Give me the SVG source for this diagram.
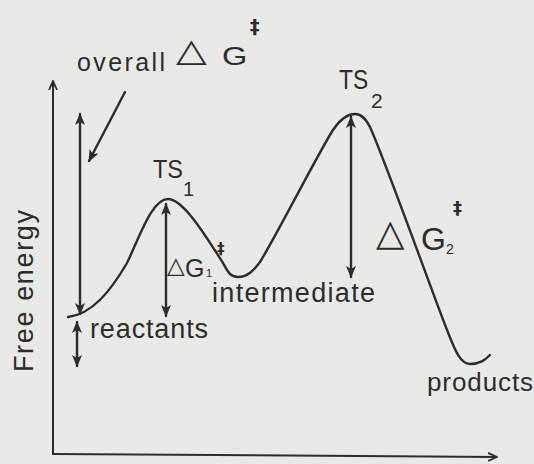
<svg xmlns="http://www.w3.org/2000/svg" width="534" height="464" viewBox="0 0 534 464">
<defs>
<style>
.ln{fill:none;stroke:#2c2c2c;stroke-width:2.4;stroke-linecap:round;stroke-linejoin:round}
.ax{fill:none;stroke:#2c2c2c;stroke-width:2}
.t{font-family:"Liberation Sans",Arial,sans-serif;fill:#2c2c2c}
.dd{font-family:"DejaVu Sans",sans-serif;font-weight:bold;fill:#2c2c2c}
.sym{font-family:"DejaVu Sans",sans-serif;fill:#2c2c2c}
</style>
<marker id="ah" viewBox="0 0 12 10" refX="11" refY="5" markerWidth="12" markerHeight="10" markerUnits="userSpaceOnUse" orient="auto-start-reverse">
<path d="M0,0 L12,5 L0,10 L3,5 z" fill="#2c2c2c"/>
</marker>
<marker id="av" viewBox="0 0 10 10" refX="9" refY="5" markerWidth="10" markerHeight="10" markerUnits="userSpaceOnUse" orient="auto">
<path d="M0,1 L9,5 L0,9" fill="none" stroke="#2c2c2c" stroke-width="1.8"/>
</marker>
</defs>
<rect width="534" height="464" fill="#e8e8e6"/>
<g id="axes">
<path class="ax" d="M53,455 L53,81" marker-end="url(#av)"/>
<path class="ax" d="M53,454 L497,457" marker-end="url(#av)"/>
<text class="t" font-size="27" transform="translate(33,372) rotate(-90)" textLength="162" lengthAdjust="spacing">Free energy</text>
</g>
<g id="curve">
<path class="ln" d="M68,317 C92,314 110,292 127,263 C140,236 152,199 168,199 C184,199 208,240 223,263 C228,272 230,277 238,277 C248,277 254,270 260,262 C275,238 320,150 333,130 C341,118 348,114 355,114 C362,114 366,119 370,127 C385,160 435,300 447,330 C455,350 460,364 470,364 C480,364 485,360 490,355"/>
</g>
<g id="connectors">
<path class="ln" d="M80,114 L80,314" marker-start="url(#ah)" marker-end="url(#ah)"/>
<path class="ln" d="M166,204 L166,316" marker-start="url(#ah)" marker-end="url(#ah)"/>
<path class="ln" d="M351,117 L351,277" marker-start="url(#ah)" marker-end="url(#ah)"/>
<path class="ln" d="M77,322 L77,366" marker-start="url(#ah)" marker-end="url(#ah)"/>
<path class="ln" d="M125,92 L89,161" marker-end="url(#ah)"/>
</g>
<g id="overall-label">
<text class="t" x="77" y="71" font-size="25" textLength="88" lengthAdjust="spacing">overall</text>
<text class="sym" font-size="40" transform="translate(176,61) scale(1,0.8)">△</text>
<text class="t" font-size="25" transform="translate(222,65) scale(1.3,1)">G</text>
<text class="dd" x="250" y="33" font-size="19">‡</text>
</g>
<g id="ts1">
<text class="t" x="153" y="178" font-size="25" textLength="30" lengthAdjust="spacingAndGlyphs">TS</text>
<text class="t" x="183" y="196" font-size="20">1</text>
</g>
<g id="ts2">
<text class="t" font-size="24" transform="translate(339,89) scale(0.95,1.15)">TS</text>
<text class="t" x="371" y="108" font-size="21">2</text>
</g>
<g id="dg1">
<text class="sym" x="167" y="273" font-size="23">△</text>
<text class="t" x="185" y="277" font-size="25">G</text>
<text class="t" x="206" y="277" font-size="11">1</text>
<text class="dd" x="217" y="254" font-size="15">‡</text>
</g>
<g id="dg2">
<text class="sym" x="376" y="245" font-size="37">△</text>
<text class="t" x="421" y="250" font-size="32">G</text>
<text class="t" x="446" y="254" font-size="14">2</text>
<text class="dd" x="453" y="214" font-size="18">‡</text>
</g>
<g id="reactants"><text class="t" x="90" y="338" font-size="27" textLength="118" lengthAdjust="spacing">reactants</text></g>
<g id="intermediate"><text class="t" x="212" y="302" font-size="27" textLength="163" lengthAdjust="spacing">intermediate</text></g>
<g id="products"><text class="t" x="427" y="391" font-size="26" textLength="106" lengthAdjust="spacing">products</text></g>
</svg>
